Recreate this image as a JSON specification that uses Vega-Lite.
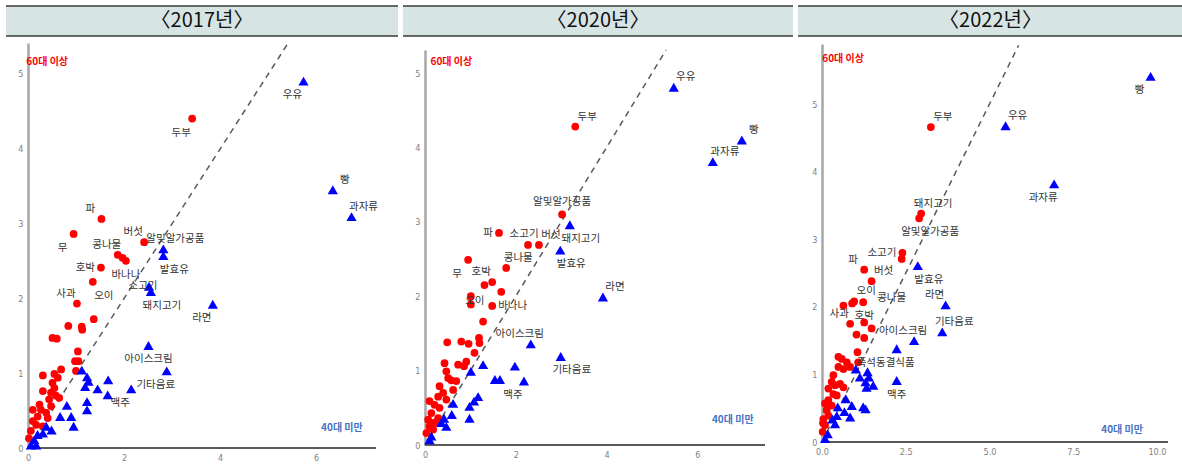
{
  "$schema": "https://vega.github.io/schema/vega-lite/v6.json",
  "background": "white",
  "padding": 5,
  "spacing": 3,
  "config": {
    "view": {"stroke": null},
    "axisX": {"domain": false, "ticks": false, "grid": false, "labelFlush": false, "labelFont": "Liberation Sans Narrow, DejaVu Sans Condensed, sans-serif", "labelFontSize": 9, "labelColor": "#7f7f7f", "labelPadding": 5},
    "axisY": {"domainColor": "#a6a6a6", "domainWidth": 2.5, "ticks": false, "grid": false, "labelFlush": false, "labelFont": "Liberation Sans Narrow, DejaVu Sans Condensed, sans-serif", "labelFontSize": 9, "labelColor": "#7f7f7f", "labelPadding": 5, "minExtent": 0},
    "text": {"font": "Noto Sans CJK KR", "fontSize": 10.5, "color": "#333333"}
  },
  "datasets": {
    "d2017": [
      {"item": "두부", "x": 3.42, "y": 4.40, "age": "60대 이상", "pos": "bl"},
      {"item": "파", "x": 1.53, "y": 3.06, "age": "60대 이상", "pos": "al"},
      {"item": "무", "x": 0.95, "y": 2.86, "age": "60대 이상", "pos": "bl"},
      {"item": "콩나물", "x": 1.87, "y": 2.58, "age": "60대 이상", "pos": "al"},
      {"item": "버섯", "x": 2.42, "y": 2.75, "age": "60대 이상", "pos": "al"},
      {"item": "호박", "x": 1.52, "y": 2.41, "age": "60대 이상", "pos": "l"},
      {"item": "바나나", "x": 2.04, "y": 2.50, "age": "60대 이상", "pos": "b"},
      {"item": "사과", "x": 1.02, "y": 1.93, "age": "60대 이상", "pos": "al"},
      {"item": "오이", "x": 1.35, "y": 2.22, "age": "60대 이상", "pos": "br"},
      {"item": "", "x": 1.97, "y": 2.54, "age": "60대 이상", "pos": ""},
      {"item": "", "x": 0.51, "y": 1.47, "age": "60대 이상", "pos": ""},
      {"item": "", "x": 0.60, "y": 1.46, "age": "60대 이상", "pos": ""},
      {"item": "", "x": 0.84, "y": 1.63, "age": "60대 이상", "pos": ""},
      {"item": "", "x": 1.12, "y": 1.62, "age": "60대 이상", "pos": ""},
      {"item": "", "x": 1.13, "y": 1.58, "age": "60대 이상", "pos": ""},
      {"item": "", "x": 1.37, "y": 1.72, "age": "60대 이상", "pos": ""},
      {"item": "", "x": 1.04, "y": 1.29, "age": "60대 이상", "pos": ""},
      {"item": "", "x": 0.98, "y": 1.16, "age": "60대 이상", "pos": ""},
      {"item": "", "x": 1.05, "y": 1.16, "age": "60대 이상", "pos": ""},
      {"item": "", "x": 1.00, "y": 1.03, "age": "60대 이상", "pos": ""},
      {"item": "", "x": 0.69, "y": 1.05, "age": "60대 이상", "pos": ""},
      {"item": "", "x": 0.55, "y": 0.99, "age": "60대 이상", "pos": ""},
      {"item": "", "x": 0.62, "y": 0.94, "age": "60대 이상", "pos": ""},
      {"item": "", "x": 0.31, "y": 0.97, "age": "60대 이상", "pos": ""},
      {"item": "", "x": 0.51, "y": 0.87, "age": "60대 이상", "pos": ""},
      {"item": "", "x": 0.55, "y": 0.80, "age": "60대 이상", "pos": ""},
      {"item": "", "x": 0.48, "y": 0.74, "age": "60대 이상", "pos": ""},
      {"item": "", "x": 0.58, "y": 0.70, "age": "60대 이상", "pos": ""},
      {"item": "", "x": 0.65, "y": 0.67, "age": "60대 이상", "pos": ""},
      {"item": "", "x": 0.31, "y": 0.76, "age": "60대 이상", "pos": ""},
      {"item": "", "x": 0.44, "y": 0.65, "age": "60대 이상", "pos": ""},
      {"item": "", "x": 0.48, "y": 0.56, "age": "60대 이상", "pos": ""},
      {"item": "", "x": 0.24, "y": 0.58, "age": "60대 이상", "pos": ""},
      {"item": "", "x": 0.27, "y": 0.51, "age": "60대 이상", "pos": ""},
      {"item": "", "x": 0.10, "y": 0.51, "age": "60대 이상", "pos": ""},
      {"item": "", "x": 0.38, "y": 0.47, "age": "60대 이상", "pos": ""},
      {"item": "", "x": 0.41, "y": 0.40, "age": "60대 이상", "pos": ""},
      {"item": "", "x": 0.20, "y": 0.42, "age": "60대 이상", "pos": ""},
      {"item": "", "x": 0.10, "y": 0.36, "age": "60대 이상", "pos": ""},
      {"item": "", "x": 0.17, "y": 0.31, "age": "60대 이상", "pos": ""},
      {"item": "", "x": 0.31, "y": 0.29, "age": "60대 이상", "pos": ""},
      {"item": "", "x": 0.06, "y": 0.23, "age": "60대 이상", "pos": ""},
      {"item": "", "x": 0.02, "y": 0.13, "age": "60대 이상", "pos": ""},
      {"item": "알및알가공품", "x": 2.82, "y": 2.66, "age": "40대 미만", "pos": "ar"},
      {"item": "발효유", "x": 2.82, "y": 2.57, "age": "40대 미만", "pos": "br"},
      {"item": "소고기", "x": 2.52, "y": 2.16, "age": "40대 미만", "pos": "cl"},
      {"item": "돼지고기", "x": 2.56, "y": 2.09, "age": "40대 미만", "pos": "br"},
      {"item": "라면", "x": 3.85, "y": 1.92, "age": "40대 미만", "pos": "bl"},
      {"item": "아이스크림", "x": 2.51, "y": 1.37, "age": "40대 미만", "pos": "b"},
      {"item": "기타음료", "x": 2.89, "y": 1.03, "age": "40대 미만", "pos": "bl"},
      {"item": "맥주", "x": 2.15, "y": 0.79, "age": "40대 미만", "pos": "bl"},
      {"item": "우유", "x": 5.74, "y": 4.90, "age": "40대 미만", "pos": "bl"},
      {"item": "빵", "x": 6.35, "y": 3.45, "age": "40대 미만", "pos": "ar"},
      {"item": "과자류", "x": 6.74, "y": 3.09, "age": "40대 미만", "pos": "ar"},
      {"item": "", "x": 1.12, "y": 1.04, "age": "40대 미만", "pos": ""},
      {"item": "", "x": 1.23, "y": 0.95, "age": "40대 미만", "pos": ""},
      {"item": "", "x": 1.26, "y": 0.89, "age": "40대 미만", "pos": ""},
      {"item": "", "x": 1.19, "y": 0.82, "age": "40대 미만", "pos": ""},
      {"item": "", "x": 1.67, "y": 0.91, "age": "40대 미만", "pos": ""},
      {"item": "", "x": 1.66, "y": 0.71, "age": "40대 미만", "pos": ""},
      {"item": "", "x": 1.45, "y": 0.79, "age": "40대 미만", "pos": ""},
      {"item": "", "x": 1.23, "y": 0.62, "age": "40대 미만", "pos": ""},
      {"item": "", "x": 1.23, "y": 0.51, "age": "40대 미만", "pos": ""},
      {"item": "", "x": 0.67, "y": 0.42, "age": "40대 미만", "pos": ""},
      {"item": "", "x": 0.81, "y": 0.57, "age": "40대 미만", "pos": ""},
      {"item": "", "x": 0.90, "y": 0.42, "age": "40대 미만", "pos": ""},
      {"item": "", "x": 0.95, "y": 0.29, "age": "40대 미만", "pos": ""},
      {"item": "", "x": 0.49, "y": 0.24, "age": "40대 미만", "pos": ""},
      {"item": "", "x": 0.38, "y": 0.29, "age": "40대 미만", "pos": ""},
      {"item": "", "x": 0.31, "y": 0.20, "age": "40대 미만", "pos": ""},
      {"item": "", "x": 0.20, "y": 0.18, "age": "40대 미만", "pos": ""},
      {"item": "", "x": 0.13, "y": 0.11, "age": "40대 미만", "pos": ""},
      {"item": "", "x": 0.17, "y": 0.04, "age": "40대 미만", "pos": ""},
      {"item": "", "x": 0.06, "y": 0.04, "age": "40대 미만", "pos": ""}
    ],
    "d2020": [
      {"item": "두부", "x": 3.31, "y": 4.28, "age": "60대 이상", "pos": "ar"},
      {"item": "알및알가공품", "x": 3.02, "y": 3.10, "age": "60대 이상", "pos": "a"},
      {"item": "파", "x": 1.63, "y": 2.85, "age": "60대 이상", "pos": "l"},
      {"item": "소고기", "x": 2.27, "y": 2.69, "age": "60대 이상", "pos": "ax"},
      {"item": "버섯", "x": 2.51, "y": 2.69, "age": "60대 이상", "pos": "ar"},
      {"item": "콩나물", "x": 1.79, "y": 2.38, "age": "60대 이상", "pos": "ar"},
      {"item": "무", "x": 0.95, "y": 2.49, "age": "60대 이상", "pos": "bl"},
      {"item": "호박", "x": 1.48, "y": 2.19, "age": "60대 이상", "pos": "al"},
      {"item": "오이", "x": 1.01, "y": 1.89, "age": "60대 이상", "pos": "c"},
      {"item": "바나나", "x": 1.48, "y": 1.87, "age": "60대 이상", "pos": "r"},
      {"item": "", "x": 1.31, "y": 2.15, "age": "60대 이상", "pos": ""},
      {"item": "", "x": 1.68, "y": 2.06, "age": "60대 이상", "pos": ""},
      {"item": "", "x": 1.01, "y": 2.00, "age": "60대 이상", "pos": ""},
      {"item": "", "x": 1.28, "y": 1.66, "age": "60대 이상", "pos": ""},
      {"item": "", "x": 0.80, "y": 1.39, "age": "60대 이상", "pos": ""},
      {"item": "", "x": 0.96, "y": 1.36, "age": "60대 이상", "pos": ""},
      {"item": "", "x": 1.19, "y": 1.44, "age": "60대 이상", "pos": ""},
      {"item": "", "x": 1.20, "y": 1.37, "age": "60대 이상", "pos": ""},
      {"item": "", "x": 0.49, "y": 1.38, "age": "60대 이상", "pos": ""},
      {"item": "", "x": 1.09, "y": 1.24, "age": "60대 이상", "pos": ""},
      {"item": "", "x": 0.91, "y": 1.12, "age": "60대 이상", "pos": ""},
      {"item": "", "x": 0.86, "y": 1.06, "age": "60대 이상", "pos": ""},
      {"item": "", "x": 0.73, "y": 1.08, "age": "60대 이상", "pos": ""},
      {"item": "", "x": 0.43, "y": 1.10, "age": "60대 이상", "pos": ""},
      {"item": "", "x": 0.47, "y": 0.99, "age": "60대 이상", "pos": ""},
      {"item": "", "x": 0.51, "y": 0.90, "age": "60대 이상", "pos": ""},
      {"item": "", "x": 0.58, "y": 0.87, "age": "60대 이상", "pos": ""},
      {"item": "", "x": 0.69, "y": 0.86, "age": "60대 이상", "pos": ""},
      {"item": "", "x": 0.62, "y": 0.74, "age": "60대 이상", "pos": ""},
      {"item": "", "x": 0.32, "y": 0.79, "age": "60대 이상", "pos": ""},
      {"item": "", "x": 0.40, "y": 0.70, "age": "60대 이상", "pos": ""},
      {"item": "", "x": 0.29, "y": 0.65, "age": "60대 이상", "pos": ""},
      {"item": "", "x": 0.47, "y": 0.61, "age": "60대 이상", "pos": ""},
      {"item": "", "x": 0.10, "y": 0.59, "age": "60대 이상", "pos": ""},
      {"item": "", "x": 0.21, "y": 0.54, "age": "60대 이상", "pos": ""},
      {"item": "", "x": 0.32, "y": 0.50, "age": "60대 이상", "pos": ""},
      {"item": "", "x": 0.14, "y": 0.43, "age": "60대 이상", "pos": ""},
      {"item": "", "x": 0.29, "y": 0.36, "age": "60대 이상", "pos": ""},
      {"item": "", "x": 0.07, "y": 0.34, "age": "60대 이상", "pos": ""},
      {"item": "", "x": 0.10, "y": 0.25, "age": "60대 이상", "pos": ""},
      {"item": "", "x": 0.18, "y": 0.21, "age": "60대 이상", "pos": ""},
      {"item": "", "x": 0.03, "y": 0.16, "age": "60대 이상", "pos": ""},
      {"item": "", "x": 0.21, "y": 0.30, "age": "60대 이상", "pos": ""},
      {"item": "돼지고기", "x": 3.19, "y": 2.96, "age": "40대 미만", "pos": "br"},
      {"item": "발효유", "x": 2.98, "y": 2.62, "age": "40대 미만", "pos": "br"},
      {"item": "아이스크림", "x": 2.33, "y": 1.36, "age": "40대 미만", "pos": "al"},
      {"item": "기타음료", "x": 2.99, "y": 1.19, "age": "40대 미만", "pos": "br"},
      {"item": "맥주", "x": 2.18, "y": 0.86, "age": "40대 미만", "pos": "bl"},
      {"item": "라면", "x": 3.92, "y": 1.99, "age": "40대 미만", "pos": "ar"},
      {"item": "우유", "x": 5.48, "y": 4.81, "age": "40대 미만", "pos": "ar"},
      {"item": "빵", "x": 6.98, "y": 4.10, "age": "40대 미만", "pos": "ar"},
      {"item": "과자류", "x": 6.34, "y": 3.81, "age": "40대 미만", "pos": "ar"},
      {"item": "", "x": 1.28, "y": 1.08, "age": "40대 미만", "pos": ""},
      {"item": "", "x": 1.01, "y": 0.99, "age": "40대 미만", "pos": ""},
      {"item": "", "x": 1.98, "y": 1.06, "age": "40대 미만", "pos": ""},
      {"item": "", "x": 1.54, "y": 0.88, "age": "40대 미만", "pos": ""},
      {"item": "", "x": 1.65, "y": 0.88, "age": "40대 미만", "pos": ""},
      {"item": "", "x": 1.17, "y": 0.65, "age": "40대 미만", "pos": ""},
      {"item": "", "x": 1.08, "y": 0.59, "age": "40대 미만", "pos": ""},
      {"item": "", "x": 0.98, "y": 0.52, "age": "40대 미만", "pos": ""},
      {"item": "", "x": 0.98, "y": 0.36, "age": "40대 미만", "pos": ""},
      {"item": "", "x": 0.62, "y": 0.56, "age": "40대 미만", "pos": ""},
      {"item": "", "x": 0.59, "y": 0.41, "age": "40대 미만", "pos": ""},
      {"item": "", "x": 0.42, "y": 0.36, "age": "40대 미만", "pos": ""},
      {"item": "", "x": 0.36, "y": 0.30, "age": "40대 미만", "pos": ""},
      {"item": "", "x": 0.47, "y": 0.25, "age": "40대 미만", "pos": ""},
      {"item": "", "x": 0.14, "y": 0.12, "age": "40대 미만", "pos": ""},
      {"item": "", "x": 0.10, "y": 0.07, "age": "40대 미만", "pos": ""}
    ],
    "d2022": [
      {"item": "두부", "x": 3.25, "y": 4.66, "age": "60대 이상", "pos": "ar"},
      {"item": "돼지고기", "x": 2.96, "y": 3.38, "age": "60대 이상", "pos": "ar"},
      {"item": "알및알가공품", "x": 2.90, "y": 3.31, "age": "60대 이상", "pos": "br"},
      {"item": "소고기", "x": 2.40, "y": 2.80, "age": "60대 이상", "pos": "l"},
      {"item": "파", "x": 1.26, "y": 2.55, "age": "60대 이상", "pos": "al"},
      {"item": "버섯", "x": 1.48, "y": 2.38, "age": "60대 이상", "pos": "ar"},
      {"item": "오이", "x": 0.96, "y": 2.08, "age": "60대 이상", "pos": "ar"},
      {"item": "콩나물", "x": 1.23, "y": 2.07, "age": "60대 이상", "pos": "r2"},
      {"item": "사과", "x": 0.84, "y": 1.75, "age": "60대 이상", "pos": "al"},
      {"item": "호박", "x": 1.26, "y": 1.77, "age": "60대 이상", "pos": "c2"},
      {"item": "", "x": 2.38, "y": 2.71, "age": "60대 이상", "pos": ""},
      {"item": "", "x": 0.90, "y": 2.05, "age": "60대 이상", "pos": ""},
      {"item": "", "x": 0.64, "y": 2.02, "age": "60대 이상", "pos": ""},
      {"item": "", "x": 1.48, "y": 1.68, "age": "60대 이상", "pos": ""},
      {"item": "", "x": 1.03, "y": 1.59, "age": "60대 이상", "pos": ""},
      {"item": "", "x": 1.26, "y": 1.54, "age": "60대 이상", "pos": ""},
      {"item": "", "x": 1.06, "y": 1.33, "age": "60대 이상", "pos": ""},
      {"item": "", "x": 0.49, "y": 1.26, "age": "60대 이상", "pos": ""},
      {"item": "", "x": 0.59, "y": 1.23, "age": "60대 이상", "pos": ""},
      {"item": "", "x": 0.74, "y": 1.18, "age": "60대 이상", "pos": ""},
      {"item": "", "x": 0.84, "y": 1.11, "age": "60대 이상", "pos": ""},
      {"item": "", "x": 1.08, "y": 1.18, "age": "60대 이상", "pos": ""},
      {"item": "", "x": 0.49, "y": 1.11, "age": "60대 이상", "pos": ""},
      {"item": "", "x": 0.64, "y": 1.08, "age": "60대 이상", "pos": ""},
      {"item": "", "x": 0.34, "y": 0.99, "age": "60대 이상", "pos": ""},
      {"item": "", "x": 0.29, "y": 0.89, "age": "60대 이상", "pos": ""},
      {"item": "", "x": 0.39, "y": 0.84, "age": "60대 이상", "pos": ""},
      {"item": "", "x": 0.54, "y": 0.86, "age": "60대 이상", "pos": ""},
      {"item": "", "x": 0.64, "y": 0.81, "age": "60대 이상", "pos": ""},
      {"item": "", "x": 0.19, "y": 0.79, "age": "60대 이상", "pos": ""},
      {"item": "", "x": 0.34, "y": 0.71, "age": "60대 이상", "pos": ""},
      {"item": "", "x": 0.44, "y": 0.69, "age": "60대 이상", "pos": ""},
      {"item": "", "x": 0.09, "y": 0.57, "age": "60대 이상", "pos": ""},
      {"item": "", "x": 0.19, "y": 0.62, "age": "60대 이상", "pos": ""},
      {"item": "", "x": 0.29, "y": 0.54, "age": "60대 이상", "pos": ""},
      {"item": "", "x": 0.14, "y": 0.47, "age": "60대 이상", "pos": ""},
      {"item": "", "x": 0.19, "y": 0.39, "age": "60대 이상", "pos": ""},
      {"item": "", "x": 0.04, "y": 0.34, "age": "60대 이상", "pos": ""},
      {"item": "", "x": 0.09, "y": 0.25, "age": "60대 이상", "pos": ""},
      {"item": "", "x": 0.03, "y": 0.28, "age": "60대 이상", "pos": ""},
      {"item": "", "x": 0.02, "y": 0.15, "age": "60대 이상", "pos": ""},
      {"item": "발효유", "x": 2.86, "y": 2.61, "age": "40대 미만", "pos": "br"},
      {"item": "라면", "x": 3.69, "y": 2.03, "age": "40대 미만", "pos": "al"},
      {"item": "기타음료", "x": 3.59, "y": 1.63, "age": "40대 미만", "pos": "ar"},
      {"item": "아이스크림", "x": 2.75, "y": 1.50, "age": "40대 미만", "pos": "al"},
      {"item": "즉석동결식품", "x": 2.23, "y": 1.38, "age": "40대 미만", "pos": "bl"},
      {"item": "맥주", "x": 2.23, "y": 0.91, "age": "40대 미만", "pos": "b"},
      {"item": "우유", "x": 5.48, "y": 4.68, "age": "40대 미만", "pos": "ar"},
      {"item": "빵", "x": 9.81, "y": 5.41, "age": "40대 미만", "pos": "bl"},
      {"item": "과자류", "x": 6.93, "y": 3.82, "age": "40대 미만", "pos": "bl"},
      {"item": "", "x": 1.01, "y": 1.08, "age": "40대 미만", "pos": ""},
      {"item": "", "x": 1.13, "y": 0.96, "age": "40대 미만", "pos": ""},
      {"item": "", "x": 1.36, "y": 1.04, "age": "40대 미만", "pos": ""},
      {"item": "", "x": 1.40, "y": 0.96, "age": "40대 미만", "pos": ""},
      {"item": "", "x": 1.30, "y": 0.89, "age": "40대 미만", "pos": ""},
      {"item": "", "x": 1.53, "y": 0.84, "age": "40대 미만", "pos": ""},
      {"item": "", "x": 1.33, "y": 0.81, "age": "40대 미만", "pos": ""},
      {"item": "", "x": 0.71, "y": 0.64, "age": "40대 미만", "pos": ""},
      {"item": "", "x": 0.89, "y": 0.54, "age": "40대 미만", "pos": ""},
      {"item": "", "x": 0.67, "y": 0.45, "age": "40대 미만", "pos": ""},
      {"item": "", "x": 0.84, "y": 0.37, "age": "40대 미만", "pos": ""},
      {"item": "", "x": 0.47, "y": 0.52, "age": "40대 미만", "pos": ""},
      {"item": "", "x": 0.44, "y": 0.39, "age": "40대 미만", "pos": ""},
      {"item": "", "x": 0.31, "y": 0.34, "age": "40대 미만", "pos": ""},
      {"item": "", "x": 0.39, "y": 0.27, "age": "40대 미만", "pos": ""},
      {"item": "", "x": 1.23, "y": 0.52, "age": "40대 미만", "pos": ""},
      {"item": "", "x": 1.30, "y": 0.49, "age": "40대 미만", "pos": ""},
      {"item": "", "x": 0.17, "y": 0.12, "age": "40대 미만", "pos": ""},
      {"item": "", "x": 0.09, "y": 0.05, "age": "40대 미만", "pos": ""}
    ]
  },
  "hconcat": [
    {
      "spacing": 5,
      "vconcat": [
        {
          "width": 392, "height": 30,
          "data": {"values": [{}]},
          "view": {"fill": "#d7e4e4", "stroke": null},
          "layer": [
            {"mark": {"type": "rule", "color": "#3a3a3a", "strokeWidth": 1.5}, "encoding": {"y": {"datum": 0, "type": "quantitative", "scale": {"domain": [0, 1]}, "axis": null}}},
            {"mark": {"type": "rule", "color": "#3a3a3a", "strokeWidth": 1.5}, "encoding": {"y": {"datum": 1, "type": "quantitative", "scale": {"domain": [0, 1]}, "axis": null}}},
            {"mark": {"type": "text", "fontSize": 20, "color": "#111111"}, "encoding": {"text": {"value": "〈2017년〉"}}}
          ]
        },
        {
          "width": 370, "height": 405,
          "layer": [
            {
              "data": {"values": [{}]},
              "mark": {"type": "rule", "color": "#595959", "strokeWidth": 2},
              "encoding": {
                "x": {"datum": 0, "type": "quantitative", "scale": {"domain": [-0.4583, 7.25], "nice": false, "zero": false}, "axis": {"values": [0, 2, 4, 6], "format": "d", "title": null}},
                "y": {"datum": 0, "type": "quantitative", "scale": {"domain": [0, 5.41], "nice": false, "zero": false}, "axis": {"values": [0, 1, 2, 3, 4, 5], "format": "d", "title": null, "offset": -22}},
                "x2": {"datum": 7.25}
              }
            },
            {
              "data": {"values": [{}]},
              "mark": {"type": "rule", "strokeDash": [6, 5], "color": "#595959", "strokeWidth": 1.5},
              "encoding": {
                "x": {"datum": 0, "type": "quantitative", "scale": {"domain": [-0.4583, 7.25], "nice": false, "zero": false}, "axis": {"values": [0, 2, 4, 6], "format": "d", "title": null}},
                "y": {"datum": 0, "type": "quantitative", "scale": {"domain": [0, 5.41], "nice": false, "zero": false}, "axis": {"values": [0, 1, 2, 3, 4, 5], "format": "d", "title": null, "offset": -22}},
                "x2": {"datum": 5.42}, "y2": {"datum": 5.41}
              }
            },
            {
              "data": {"values": [{}]},
              "mark": {"type": "text", "fontSize": 10, "fontWeight": "bold", "color": "#ff0000"},
              "encoding": {
                "x": {"datum": 0.4, "type": "quantitative", "scale": {"domain": [-0.4583, 7.25], "nice": false, "zero": false}, "axis": {"values": [0, 2, 4, 6], "format": "d", "title": null}},
                "y": {"datum": 5.15, "type": "quantitative", "scale": {"domain": [0, 5.41], "nice": false, "zero": false}, "axis": {"values": [0, 1, 2, 3, 4, 5], "format": "d", "title": null, "offset": -22}},
                "text": {"value": "60대 이상"}
              }
            },
            {
              "data": {"values": [{}]},
              "mark": {"type": "text", "fontSize": 10, "fontWeight": "bold", "color": "#4472c4"},
              "encoding": {
                "x": {"datum": 6.54, "type": "quantitative", "scale": {"domain": [-0.4583, 7.25], "nice": false, "zero": false}, "axis": {"values": [0, 2, 4, 6], "format": "d", "title": null}},
                "y": {"datum": 0.27, "type": "quantitative", "scale": {"domain": [0, 5.41], "nice": false, "zero": false}, "axis": {"values": [0, 1, 2, 3, 4, 5], "format": "d", "title": null, "offset": -22}},
                "text": {"value": "40대 미만"}
              }
            },
            {
              "data": {"name": "d2017"},
              "encoding": {
                "x": {"field": "x", "type": "quantitative", "scale": {"domain": [-0.4583, 7.25], "nice": false, "zero": false}, "axis": {"values": [0, 2, 4, 6], "format": "d", "title": null}},
                "y": {"field": "y", "type": "quantitative", "scale": {"domain": [0, 5.41], "nice": false, "zero": false}, "axis": {"values": [0, 1, 2, 3, 4, 5], "format": "d", "title": null, "offset": -22}}
              },
              "layer": [
                {"mark": {"type": "point", "filled": true, "opacity": 1, "strokeWidth": 0}, "encoding": {
                  "color": {"field": "age", "type": "nominal", "scale": {"domain": ["60대 이상", "40대 미만"], "range": ["#ff0000", "#0000ff"]}, "legend": null},
                  "shape": {"field": "age", "type": "nominal", "scale": {"domain": ["60대 이상", "40대 미만"], "range": ["circle", "triangle-up"]}, "legend": null},
                  "size": {"field": "age", "type": "nominal", "scale": {"domain": ["60대 이상", "40대 미만"], "range": [60, 105]}, "legend": null}
                }},
                {"transform": [{"filter": "datum.pos === 'a'"}], "mark": {"type": "text", "dy": -12}, "encoding": {"text": {"field": "item"}}},
                {"transform": [{"filter": "datum.pos === 'b'"}], "mark": {"type": "text", "dy": 14}, "encoding": {"text": {"field": "item"}}},
                {"transform": [{"filter": "datum.pos === 'al'"}], "mark": {"type": "text", "dx": -11, "dy": -10}, "encoding": {"text": {"field": "item"}}},
                {"transform": [{"filter": "datum.pos === 'ar'"}], "mark": {"type": "text", "dx": 12, "dy": -10}, "encoding": {"text": {"field": "item"}}},
                {"transform": [{"filter": "datum.pos === 'bl'"}], "mark": {"type": "text", "dx": -11, "dy": 14}, "encoding": {"text": {"field": "item"}}},
                {"transform": [{"filter": "datum.pos === 'br'"}], "mark": {"type": "text", "dx": 11, "dy": 14}, "encoding": {"text": {"field": "item"}}},
                {"transform": [{"filter": "datum.pos === 'l'"}], "mark": {"type": "text", "align": "right", "dx": -6}, "encoding": {"text": {"field": "item"}}},
                {"transform": [{"filter": "datum.pos === 'r'"}], "mark": {"type": "text", "align": "left", "dx": 6}, "encoding": {"text": {"field": "item"}}},
                {"transform": [{"filter": "datum.pos === 'c'"}], "mark": {"type": "text", "dx": 4, "dy": -3}, "encoding": {"text": {"field": "item"}}},
                {"transform": [{"filter": "datum.pos === 'cl'"}], "mark": {"type": "text", "dx": -6, "dy": 0}, "encoding": {"text": {"field": "item"}}}
              ]
            }
          ]
        }
      ]
    },
    {
      "spacing": 12,
      "vconcat": [
        {
          "width": 390, "height": 30,
          "data": {"values": [{}]},
          "view": {"fill": "#d7e4e4", "stroke": null},
          "layer": [
            {"mark": {"type": "rule", "color": "#3a3a3a", "strokeWidth": 1.5}, "encoding": {"y": {"datum": 0, "type": "quantitative", "scale": {"domain": [0, 1]}, "axis": null}}},
            {"mark": {"type": "rule", "color": "#3a3a3a", "strokeWidth": 1.5}, "encoding": {"y": {"datum": 1, "type": "quantitative", "scale": {"domain": [0, 1]}, "axis": null}}},
            {"mark": {"type": "text", "fontSize": 20, "color": "#111111"}, "encoding": {"text": {"value": "〈2020년〉"}}}
          ]
        },
        {
          "width": 362, "height": 395,
          "layer": [
            {
              "data": {"values": [{}]},
              "mark": {"type": "rule", "color": "#595959", "strokeWidth": 2},
              "encoding": {
                "x": {"datum": 0, "type": "quantitative", "scale": {"domain": [-0.4846, 7.49], "nice": false, "zero": false}, "axis": {"values": [0, 2, 4, 6], "format": "d", "title": null}},
                "y": {"datum": 0, "type": "quantitative", "scale": {"domain": [0, 5.31], "nice": false, "zero": false}, "axis": {"values": [0, 1, 2, 3, 4, 5], "format": "d", "title": null, "offset": -22}},
                "x2": {"datum": 7.49}
              }
            },
            {
              "data": {"values": [{}]},
              "mark": {"type": "rule", "strokeDash": [6, 5], "color": "#595959", "strokeWidth": 1.5},
              "encoding": {
                "x": {"datum": 0, "type": "quantitative", "scale": {"domain": [-0.4846, 7.49], "nice": false, "zero": false}, "axis": {"values": [0, 2, 4, 6], "format": "d", "title": null}},
                "y": {"datum": 0, "type": "quantitative", "scale": {"domain": [0, 5.31], "nice": false, "zero": false}, "axis": {"values": [0, 1, 2, 3, 4, 5], "format": "d", "title": null, "offset": -22}},
                "x2": {"datum": 5.31}, "y2": {"datum": 5.31}
              }
            },
            {
              "data": {"values": [{}]},
              "mark": {"type": "text", "fontSize": 10, "fontWeight": "bold", "color": "#ff0000"},
              "encoding": {
                "x": {"datum": 0.58, "type": "quantitative", "scale": {"domain": [-0.4846, 7.49], "nice": false, "zero": false}, "axis": {"values": [0, 2, 4, 6], "format": "d", "title": null}},
                "y": {"datum": 5.15, "type": "quantitative", "scale": {"domain": [0, 5.31], "nice": false, "zero": false}, "axis": {"values": [0, 1, 2, 3, 4, 5], "format": "d", "title": null, "offset": -22}},
                "text": {"value": "60대 이상"}
              }
            },
            {
              "data": {"values": [{}]},
              "mark": {"type": "text", "fontSize": 10, "fontWeight": "bold", "color": "#4472c4"},
              "encoding": {
                "x": {"datum": 6.78, "type": "quantitative", "scale": {"domain": [-0.4846, 7.49], "nice": false, "zero": false}, "axis": {"values": [0, 2, 4, 6], "format": "d", "title": null}},
                "y": {"datum": 0.34, "type": "quantitative", "scale": {"domain": [0, 5.31], "nice": false, "zero": false}, "axis": {"values": [0, 1, 2, 3, 4, 5], "format": "d", "title": null, "offset": -22}},
                "text": {"value": "40대 미만"}
              }
            },
            {
              "data": {"name": "d2020"},
              "encoding": {
                "x": {"field": "x", "type": "quantitative", "scale": {"domain": [-0.4846, 7.49], "nice": false, "zero": false}, "axis": {"values": [0, 2, 4, 6], "format": "d", "title": null}},
                "y": {"field": "y", "type": "quantitative", "scale": {"domain": [0, 5.31], "nice": false, "zero": false}, "axis": {"values": [0, 1, 2, 3, 4, 5], "format": "d", "title": null, "offset": -22}}
              },
              "layer": [
                {"mark": {"type": "point", "filled": true, "opacity": 1, "strokeWidth": 0}, "encoding": {
                  "color": {"field": "age", "type": "nominal", "scale": {"domain": ["60대 이상", "40대 미만"], "range": ["#ff0000", "#0000ff"]}, "legend": null},
                  "shape": {"field": "age", "type": "nominal", "scale": {"domain": ["60대 이상", "40대 미만"], "range": ["circle", "triangle-up"]}, "legend": null},
                  "size": {"field": "age", "type": "nominal", "scale": {"domain": ["60대 이상", "40대 미만"], "range": [60, 105]}, "legend": null}
                }},
                {"transform": [{"filter": "datum.pos === 'a'"}], "mark": {"type": "text", "dy": -12}, "encoding": {"text": {"field": "item"}}},
                {"transform": [{"filter": "datum.pos === 'ax'"}], "mark": {"type": "text", "dx": -4, "dy": -11}, "encoding": {"text": {"field": "item"}}},
                {"transform": [{"filter": "datum.pos === 'b'"}], "mark": {"type": "text", "dy": 14}, "encoding": {"text": {"field": "item"}}},
                {"transform": [{"filter": "datum.pos === 'al'"}], "mark": {"type": "text", "dx": -11, "dy": -10}, "encoding": {"text": {"field": "item"}}},
                {"transform": [{"filter": "datum.pos === 'ar'"}], "mark": {"type": "text", "dx": 12, "dy": -10}, "encoding": {"text": {"field": "item"}}},
                {"transform": [{"filter": "datum.pos === 'bl'"}], "mark": {"type": "text", "dx": -11, "dy": 14}, "encoding": {"text": {"field": "item"}}},
                {"transform": [{"filter": "datum.pos === 'br'"}], "mark": {"type": "text", "dx": 11, "dy": 14}, "encoding": {"text": {"field": "item"}}},
                {"transform": [{"filter": "datum.pos === 'l'"}], "mark": {"type": "text", "align": "right", "dx": -6}, "encoding": {"text": {"field": "item"}}},
                {"transform": [{"filter": "datum.pos === 'r'"}], "mark": {"type": "text", "align": "left", "dx": 6}, "encoding": {"text": {"field": "item"}}},
                {"transform": [{"filter": "datum.pos === 'c'"}], "mark": {"type": "text", "dx": 4, "dy": -3}, "encoding": {"text": {"field": "item"}}}
              ]
            }
          ]
        }
      ]
    },
    {
      "spacing": 7,
      "vconcat": [
        {
          "width": 385, "height": 30,
          "data": {"values": [{}]},
          "view": {"fill": "#d7e4e4", "stroke": null},
          "layer": [
            {"mark": {"type": "rule", "color": "#3a3a3a", "strokeWidth": 1.5}, "encoding": {"y": {"datum": 0, "type": "quantitative", "scale": {"domain": [0, 1]}, "axis": null}}},
            {"mark": {"type": "rule", "color": "#3a3a3a", "strokeWidth": 1.5}, "encoding": {"y": {"datum": 1, "type": "quantitative", "scale": {"domain": [0, 1]}, "axis": null}}},
            {"mark": {"type": "text", "fontSize": 20, "color": "#111111"}, "encoding": {"text": {"value": "〈2022년〉"}}}
          ]
        },
        {
          "width": 370, "height": 398,
          "layer": [
            {
              "data": {"values": [{}]},
              "mark": {"type": "rule", "color": "#595959", "strokeWidth": 2},
              "encoding": {
                "x": {"datum": 0, "type": "quantitative", "scale": {"domain": [-0.7164, 10.33], "nice": false, "zero": false}, "axis": {"values": [0, 2.5, 5, 7.5, 10], "format": ".1f", "title": null}},
                "y": {"datum": 0, "type": "quantitative", "scale": {"domain": [0, 5.89], "nice": false, "zero": false}, "axis": {"values": [0, 1, 2, 3, 4, 5], "format": "d", "title": null, "offset": -24}},
                "x2": {"datum": 10.33}
              }
            },
            {
              "data": {"values": [{}]},
              "mark": {"type": "rule", "strokeDash": [6, 5], "color": "#595959", "strokeWidth": 1.5},
              "encoding": {
                "x": {"datum": 0, "type": "quantitative", "scale": {"domain": [-0.7164, 10.33], "nice": false, "zero": false}, "axis": {"values": [0, 2.5, 5, 7.5, 10], "format": ".1f", "title": null}},
                "y": {"datum": 0, "type": "quantitative", "scale": {"domain": [0, 5.89], "nice": false, "zero": false}, "axis": {"values": [0, 1, 2, 3, 4, 5], "format": "d", "title": null, "offset": -24}},
                "x2": {"datum": 5.87}, "y2": {"datum": 5.87}
              }
            },
            {
              "data": {"values": [{}]},
              "mark": {"type": "text", "fontSize": 10, "fontWeight": "bold", "color": "#ff0000"},
              "encoding": {
                "x": {"datum": 0.63, "type": "quantitative", "scale": {"domain": [-0.7164, 10.33], "nice": false, "zero": false}, "axis": {"values": [0, 2.5, 5, 7.5, 10], "format": ".1f", "title": null}},
                "y": {"datum": 5.67, "type": "quantitative", "scale": {"domain": [0, 5.89], "nice": false, "zero": false}, "axis": {"values": [0, 1, 2, 3, 4, 5], "format": "d", "title": null, "offset": -24}},
                "text": {"value": "60대 이상"}
              }
            },
            {
              "data": {"values": [{}]},
              "mark": {"type": "text", "fontSize": 10, "fontWeight": "bold", "color": "#4472c4"},
              "encoding": {
                "x": {"datum": 8.96, "type": "quantitative", "scale": {"domain": [-0.7164, 10.33], "nice": false, "zero": false}, "axis": {"values": [0, 2.5, 5, 7.5, 10], "format": ".1f", "title": null}},
                "y": {"datum": 0.18, "type": "quantitative", "scale": {"domain": [0, 5.89], "nice": false, "zero": false}, "axis": {"values": [0, 1, 2, 3, 4, 5], "format": "d", "title": null, "offset": -24}},
                "text": {"value": "40대 미만"}
              }
            },
            {
              "data": {"name": "d2022"},
              "encoding": {
                "x": {"field": "x", "type": "quantitative", "scale": {"domain": [-0.7164, 10.33], "nice": false, "zero": false}, "axis": {"values": [0, 2.5, 5, 7.5, 10], "format": ".1f", "title": null}},
                "y": {"field": "y", "type": "quantitative", "scale": {"domain": [0, 5.89], "nice": false, "zero": false}, "axis": {"values": [0, 1, 2, 3, 4, 5], "format": "d", "title": null, "offset": -24}}
              },
              "layer": [
                {"mark": {"type": "point", "filled": true, "opacity": 1, "strokeWidth": 0}, "encoding": {
                  "color": {"field": "age", "type": "nominal", "scale": {"domain": ["60대 이상", "40대 미만"], "range": ["#ff0000", "#0000ff"]}, "legend": null},
                  "shape": {"field": "age", "type": "nominal", "scale": {"domain": ["60대 이상", "40대 미만"], "range": ["circle", "triangle-up"]}, "legend": null},
                  "size": {"field": "age", "type": "nominal", "scale": {"domain": ["60대 이상", "40대 미만"], "range": [60, 105]}, "legend": null}
                }},
                {"transform": [{"filter": "datum.pos === 'a'"}], "mark": {"type": "text", "dy": -12}, "encoding": {"text": {"field": "item"}}},
                {"transform": [{"filter": "datum.pos === 'b'"}], "mark": {"type": "text", "dy": 14}, "encoding": {"text": {"field": "item"}}},
                {"transform": [{"filter": "datum.pos === 'al'"}], "mark": {"type": "text", "dx": -11, "dy": -10}, "encoding": {"text": {"field": "item"}}},
                {"transform": [{"filter": "datum.pos === 'ar'"}], "mark": {"type": "text", "dx": 12, "dy": -10}, "encoding": {"text": {"field": "item"}}},
                {"transform": [{"filter": "datum.pos === 'bl'"}], "mark": {"type": "text", "dx": -11, "dy": 14}, "encoding": {"text": {"field": "item"}}},
                {"transform": [{"filter": "datum.pos === 'br'"}], "mark": {"type": "text", "dx": 11, "dy": 14}, "encoding": {"text": {"field": "item"}}},
                {"transform": [{"filter": "datum.pos === 'l'"}], "mark": {"type": "text", "align": "right", "dx": -6}, "encoding": {"text": {"field": "item"}}},
                {"transform": [{"filter": "datum.pos === 'r2'"}], "mark": {"type": "text", "align": "left", "dx": 14, "dy": -4}, "encoding": {"text": {"field": "item"}}},
                {"transform": [{"filter": "datum.pos === 'c2'"}], "mark": {"type": "text", "dy": -6}, "encoding": {"text": {"field": "item"}}}
              ]
            }
          ]
        }
      ]
    }
  ]
}
